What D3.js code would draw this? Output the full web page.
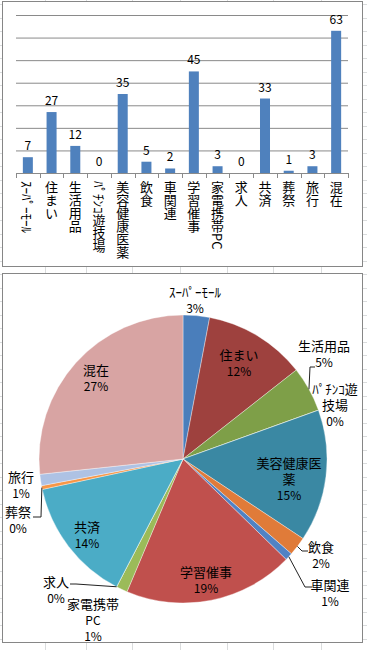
<!DOCTYPE html>
<html>
<head>
<meta charset="utf-8">
<script src="https://cdn.jsdelivr.net/npm/d3@7"></script>
<style>
  body { margin: 0; background: #fff; }
  svg { display: block; font-family: "Noto Sans CJK JP", "Noto Sans", sans-serif; }
</style>
</head>
<body>
<div id="chart"></div>
<script>
// Data
var categories = ["ｽｰﾊﾟｰﾓｰﾙ", "住まい", "生活用品", "ﾊﾟﾁﾝｺ遊技場", "美容健康医薬", "飲食", "車関連",
                  "学習催事", "家電携帯PC", "求人", "共済", "葬祭", "旅行", "混在"];
var counts = [7, 27, 12, 0, 35, 5, 2, 45, 3, 0, 33, 1, 3, 63];
var yTicks = [10, 20, 30, 40, 50, 60, 70];
var pctLabels = ["3%", "12%", "5%", "0%", "15%", "2%", "1%", "19%", "1%", "0%", "14%", "0%", "1%", "27%"];
var pieNameLines = [["ｽｰﾊﾟｰﾓｰﾙ"], ["住まい"], ["生活用品"], ["ﾊﾟﾁﾝｺ遊", "技場"], ["美容健康医", "薬"],
                    ["飲食"], ["車関連"], ["学習催事"], ["家電携帯", "PC"], ["求人"], ["共済"],
                    ["葬祭"], ["旅行"], ["混在"]];
var sliceColors = ["#4a7ebb", "#9e413e", "#7e9f48", "#8064a2", "#3a88a3", "#e07b39", "#5082c4",
                   "#c0504d", "#9bbb59", "#8064a2", "#4bacc6", "#f79646", "#aec2e4", "#d8a4a3"];

var W = 367, H = 650;
var svg = d3.select('#chart').append('svg')
    .attr('width', W).attr('height', H);

// Spreadsheet grid behind the charts
var sheet = svg.append('g').attr('class', 'sheet');
[45, 86, 132, 180, 227, 273, 321].forEach(function(cx) {
    sheet.append('line').attr('x1', cx + 0.5).attr('x2', cx + 0.5)
        .attr('y1', 0).attr('y2', H).attr('stroke', '#dadcdd');
});
d3.range(4, H, 13.5).forEach(function(ry) {
    sheet.append('line').attr('x1', 0).attr('x2', W)
        .attr('y1', Math.round(ry) + 0.5).attr('y2', Math.round(ry) + 0.5).attr('stroke', '#dadcdd');
});

// ---------- bar chart ----------
svg.append('rect').attr('x', 2.5).attr('y', 1.5).attr('width', 360).attr('height', 265)
    .attr('fill', '#fff').attr('stroke', '#868686');

var bar = svg.append('g');
var x = d3.scaleBand().domain(categories).range([16, 348])
    .paddingInner(0.578).paddingOuter(0.289);
var y = d3.scaleLinear().domain([0, 70]).range([173, 15]);

// gridlines
bar.append('g')
    .attr('transform', 'translate(16,0)')
    .call(d3.axisLeft(y).tickValues(yTicks).tickSize(-332).tickFormat(''))
    .call(function(g) {
        g.select('.domain').remove();
        g.selectAll('.tick line').attr('stroke', '#8a8a8a');
    });

bar.selectAll('rect.bar').data(counts).enter().append('rect')
    .attr('class', 'bar')
    .attr('x', function(d, i) { return x(categories[i]); })
    .attr('width', x.bandwidth())
    .attr('y', function(d) { return y(d); })
    .attr('height', function(d) { return y(0) - y(d); })
    .attr('fill', '#4f81bd');

// x axis with ticks between categories
var xAxis = bar.append('g').attr('transform', 'translate(0,' + y(0) + ')');
xAxis.append('line').attr('x1', 16).attr('x2', 348).attr('y1', 0.5).attr('y2', 0.5)
    .attr('stroke', '#8a8a8a');
var half = x.step() * x.paddingInner() / 2;
var bounds = categories.map(function(c) { return x(c) - half; }).concat([348]);
xAxis.selectAll('line.tk').data(bounds).enter().append('line')
    .attr('class', 'tk')
    .attr('x1', function(d) { return Math.round(d) + 0.5; })
    .attr('x2', function(d) { return Math.round(d) + 0.5; })
    .attr('y1', 0).attr('y2', 5).attr('stroke', '#8a8a8a');

// vertical category labels; half-width kana runs are turned sideways
bar.selectAll('text.cat').data(categories).enter().append('text')
    .attr('class', 'cat')
    .attr('x', function(d) { return x(d) + x.bandwidth() / 2; })
    .attr('y', y(0) + 8)
    .style('writing-mode', 'vertical-rl')
    .attr('font-size', 13)
    .attr('fill', '#000')
    .each(function(d) {
        var t = d3.select(this);
        (d.match(/[\uFF61-\uFF9F]+|[^\uFF61-\uFF9F]+/g) || []).forEach(function(run) {
            var ts = t.append('tspan').text(run);
            if (/[\uFF61-\uFF9F]/.test(run)) ts.style('text-orientation', 'sideways');
        });
    });

bar.selectAll('text.val').data(counts).enter().append('text')
    .attr('class', 'val')
    .attr('x', function(d, i) { return x(categories[i]) + x.bandwidth() / 2; })
    .attr('y', function(d) { return y(d) - 7; })
    .attr('text-anchor', 'middle')
    .attr('font-size', 12)
    .attr('fill', '#000')
    .text(function(d) { return d; });

// ---------- pie chart ----------
svg.append('rect').attr('x', 2.5).attr('y', 273.5).attr('width', 360).attr('height', 369)
    .attr('fill', '#fff').attr('stroke', '#868686');

var cx = 183, cy = 459, R = 144;
var pie = d3.pie().sort(null).value(function(d) { return d; });
var arcs = pie(counts);
var arc = d3.arc().innerRadius(0).outerRadius(R);
var edge = d3.arc().innerRadius(R).outerRadius(R);
var pg = svg.append('g').attr('transform', 'translate(' + cx + ',' + cy + ')');

pg.selectAll('path.slice').data(arcs).enter().append('path')
    .attr('class', 'slice')
    .attr('d', arc)
    .attr('fill', function(d, i) { return sliceColors[i]; })
    .attr('stroke', '#ffffff').attr('stroke-opacity', 0.6).attr('stroke-width', 0.6);

// label placement (layout only)
var labelPos = [[195, 291], [239, 354], [324, 345], [335, 388], [289, 462], [321, 546], [330, 584],
                [206, 571], [93, 603], [56, 581], [87, 526], [18, 511], [21, 476], [96, 369]];
var leaders = {
    2: [[310, 367], [315, 367]],
    5: [[302, 551], [308, 551]],
    6: [[305, 587], [312, 587]],
    9: [[76, 584], [70, 584]],
    11: [[41, 517], [33, 517]]
};

Object.keys(leaders).forEach(function(k) {
    var c = edge.centroid(arcs[k]);
    var pts = [[c[0] + cx, c[1] + cy]].concat(leaders[k]);
    svg.append('path').attr('d', d3.line()(pts))
        .attr('fill', 'none').attr('stroke', '#222').attr('stroke-width', 1);
});

var lab = svg.append('g');
arcs.forEach(function(d, i) {
    var lines = pieNameLines[i].concat([pctLabels[i]]);
    var t = lab.append('text')
        .attr('text-anchor', 'middle')
        .attr('font-size', 13)
        .attr('fill', '#000');
    lines.forEach(function(s, j) {
        t.append('tspan')
            .attr('x', labelPos[i][0])
            .attr('y', labelPos[i][1] + j * 16)
            .attr('dominant-baseline', 'central')
            .attr('font-size', (s === 'PC' || j === lines.length - 1) ? 12 : 13)
            .text(s);
    });
});
</script>
</body>
</html>
